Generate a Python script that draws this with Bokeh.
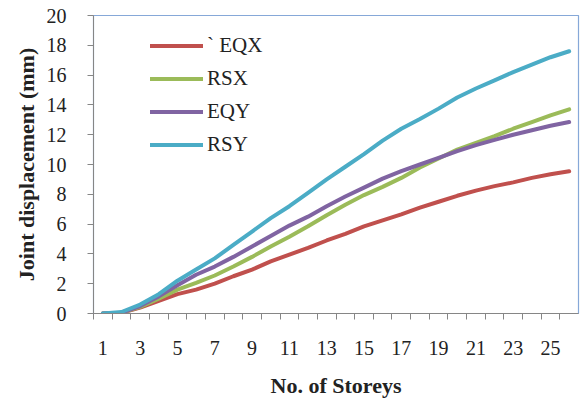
from bokeh.plotting import figure
from bokeh.models import FixedTicker, Range1d, Legend, LegendItem
from bokeh.embed import file_html
from bokeh.resources import INLINE

storeys = list(range(1, 27))
eqx = [0, 0.05, 0.4, 0.85, 1.3, 1.6, 2.0, 2.5, 2.95, 3.5, 3.95, 4.4, 4.9, 5.35, 5.85,
       6.25, 6.65, 7.1, 7.5, 7.9, 8.25, 8.55, 8.8, 9.1, 9.35, 9.55]
rsx = [0, 0.05, 0.45, 1.0, 1.6, 2.05, 2.55, 3.15, 3.8, 4.5, 5.15, 5.85, 6.6, 7.3, 7.95,
       8.5, 9.1, 9.8, 10.4, 11.0, 11.45, 11.9, 12.4, 12.85, 13.3, 13.7]
eqy = [0, 0.05, 0.5, 1.15, 1.9, 2.6, 3.15, 3.8, 4.5, 5.2, 5.9, 6.5, 7.2, 7.85, 8.45,
       9.05, 9.55, 10.0, 10.45, 10.9, 11.3, 11.65, 12.0, 12.3, 12.6, 12.85]
rsy = [0, 0.1, 0.6, 1.3, 2.2, 2.95, 3.7, 4.6, 5.5, 6.4, 7.2, 8.1, 9.0, 9.85, 10.7,
       11.6, 12.4, 13.05, 13.75, 14.5, 15.1, 15.65, 16.2, 16.7, 17.2, 17.6]
series_names = ["` EQX", "RSX", "EQY", "RSY"]
colors = ["#C0504D", "#9BBB59", "#8064A2", "#4BACC6"]
x_ticks = list(range(1, 26, 2))
y_ticks = list(range(0, 21, 2))

FONT = "Liberation Serif"

p = figure(width=580, height=400, output_backend="svg", toolbar_location=None,
           x_range=Range1d(0.5, 26.5), y_range=Range1d(0, 20),
           min_border_left=93, min_border_right=2, min_border_top=15, min_border_bottom=85)

p.xgrid.visible = False
p.ygrid.visible = False
p.outline_line_color = "#86A8D8"
p.outline_line_width = 1.2

renderers = []
for ys, c in zip([eqx, rsx, eqy, rsy], colors):
    r = p.line(storeys, ys, line_color=c, line_width=4, line_join="round", line_cap="round")
    renderers.append(r)

legend = Legend(items=[LegendItem(label=n, renderers=[r]) for n, r in zip(series_names, renderers)],
                location=(57, 152), padding=0, margin=0, spacing=0,
                glyph_width=53, glyph_height=33, label_height=33, label_standoff=4,
                border_line_color=None, background_fill_alpha=0,
                label_text_font=FONT, label_text_font_size="21px", label_text_color="#222222")
p.add_layout(legend, "center")

xa = p.xaxis[0]
xa.ticker = FixedTicker(ticks=x_ticks, minor_ticks=[k + 0.5 for k in range(0, 26)])
xa.major_tick_line_color = None
xa.minor_tick_out = 6
xa.minor_tick_in = 0
xa.minor_tick_line_color = "#868686"
xa.axis_line_color = "#868686"
xa.major_label_text_font = FONT
xa.major_label_text_font_size = "20px"
xa.major_label_text_color = "#222222"
xa.major_label_standoff = 21
xa.axis_label = "No. of Storeys"
xa.axis_label_text_font = FONT
xa.axis_label_text_font_style = "bold"
xa.axis_label_text_font_size = "22px"
xa.axis_label_text_color = "#222222"
xa.axis_label_standoff = 15

ya = p.yaxis[0]
ya.ticker = FixedTicker(ticks=y_ticks, minor_ticks=[])
ya.major_tick_out = 6
ya.major_tick_in = 0
ya.major_tick_line_color = "#868686"
ya.axis_line_color = "#868686"
ya.major_label_text_font = FONT
ya.major_label_text_font_size = "20px"
ya.major_label_text_color = "#222222"
ya.major_label_standoff = 21
ya.axis_label = "Joint displacement (mm)"
ya.axis_label_text_font = FONT
ya.axis_label_text_font_style = "bold"
ya.axis_label_text_font_size = "22px"
ya.axis_label_text_color = "#222222"
ya.axis_label_standoff = 5

open("out.html", "w").write(file_html(p, INLINE))
